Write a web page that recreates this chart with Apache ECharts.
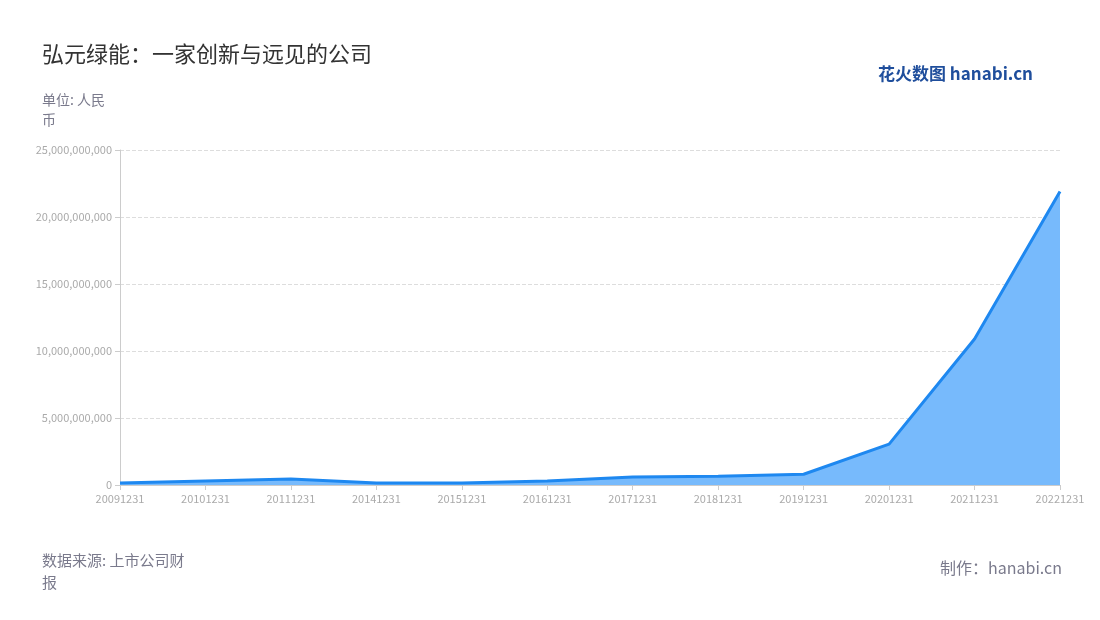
<!DOCTYPE html>
<html><head><meta charset="utf-8">
<script src="https://cdn.jsdelivr.net/npm/echarts@6/dist/echarts.min.js"></script>
<style>body{margin:0}#c{width:1100px;height:620px}</style></head>
<body><div id="c"></div>
<script>
const categories=['20091231','20101231','20111231','20141231','20151231','20161231','20171231','20181231','20191231','20201231','20211231','20221231'];
const values=[150000000,300000000,450000000,150000000,150000000,300000000,600000000,650000000,800000000,3050000000,10900000000,21900000000];
const chart=echarts.init(document.getElementById('c'));
const f='"Noto Sans CJK SC","Noto Sans",sans-serif';
chart.setOption({
  backgroundColor:'#fff',
  title:[{text:'弘元绿能：一家创新与远见的公司',left:37,top:38,textStyle:{fontSize:22,fontWeight:'normal',color:'#333',fontFamily:f}},
    {text:'单位: 人民\n币',left:37,top:85,textStyle:{fontSize:14,fontWeight:'normal',color:'#7a7a8c',fontFamily:f,lineHeight:20}},
    {text:'数据来源: 上市公司财\n报',left:37,bottom:22,textStyle:{fontSize:15,fontWeight:'normal',color:'#7a7a8c',fontFamily:f,lineHeight:22}},
    {text:'制作：hanabi.cn',right:33,top:555,textStyle:{fontSize:16,fontWeight:'normal',color:'#7a7a8c',fontFamily:f}},
    {text:'花火数图 hanabi.cn',right:62,top:60,textStyle:{fontSize:17,fontWeight:'bold',color:'#1f4e9c',fontFamily:f}}],
  grid:{left:120,right:40,top:150,bottom:135},
  xAxis:{type:'category',data:categories,boundaryGap:false,
    axisLine:{lineStyle:{color:'#ccc'}},axisTick:{show:true,lineStyle:{color:'#ccc'}},
    axisLabel:{color:'#aaa',fontSize:11,fontFamily:f,interval:0}},
  yAxis:{type:'value',min:0,max:25000000000,interval:5000000000,
    axisLine:{show:true,lineStyle:{color:'#ccc'}},axisTick:{show:true,lineStyle:{color:'#ccc'}},
    splitLine:{lineStyle:{type:'dashed',color:'#ddd'}},
    axisLabel:{color:'#aaa',fontSize:11,fontFamily:f,formatter:v=>v.toLocaleString('en-US')}},
  series:[{type:'line',data:values,symbol:'none',lineStyle:{color:'#1e88f0',width:3},
    areaStyle:{color:'#77bafc',opacity:1}}]
});
</script></body></html>
